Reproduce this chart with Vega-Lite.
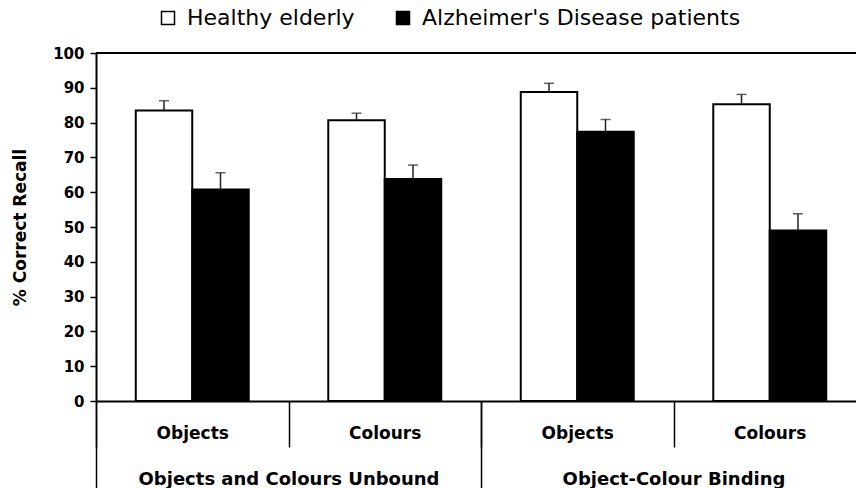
{
  "$schema": "https://vega.github.io/schema/vega-lite/v6.json",
  "width": 760,
  "height": 348,
  "autosize": {"type": "none"},
  "padding": {"left": 96, "top": 53, "right": 0, "bottom": 87},
  "config": {
    "view": {"stroke": null},
    "font": "DejaVu Sans",
    "axis": {"labelColor": "black", "titleColor": "black", "domainColor": "black", "tickColor": "black", "grid": false}
  },
  "data": {
    "values": [
      {"cell": "Objects and Colours Unbound|Objects", "group": "Healthy elderly", "value": 83.5, "hi": 86.3},
      {"cell": "Objects and Colours Unbound|Objects", "group": "Alzheimer's Disease patients", "value": 60.8, "hi": 65.6},
      {"cell": "Objects and Colours Unbound|Colours", "group": "Healthy elderly", "value": 80.7, "hi": 82.7},
      {"cell": "Objects and Colours Unbound|Colours", "group": "Alzheimer's Disease patients", "value": 63.8, "hi": 67.8},
      {"cell": "Object-Colour Binding|Objects", "group": "Healthy elderly", "value": 88.8, "hi": 91.3},
      {"cell": "Object-Colour Binding|Objects", "group": "Alzheimer's Disease patients", "value": 77.4, "hi": 80.9},
      {"cell": "Object-Colour Binding|Colours", "group": "Healthy elderly", "value": 85.3, "hi": 88.1},
      {"cell": "Object-Colour Binding|Colours", "group": "Alzheimer's Disease patients", "value": 49.0, "hi": 53.8}
    ]
  },
  "layer": [
    {
      "mark": {"type": "bar", "stroke": "black", "strokeWidth": 2},
      "encoding": {
        "x": {
          "field": "cell", "type": "nominal", "sort": null,
          "scale": {"range": [0, 770], "paddingInner": 0, "paddingOuter": 0},
          "axis": {
            "orient": "bottom", "title": null, "labelAngle": 0,
            "labelExpr": "split(datum.label, '|')[1]",
            "labelFont": "DejaVu Sans", "labelFontWeight": "bold", "labelFontSize": 17,
            "tickOffset": -96.25, "labelOffset": 96.25,
            "tickSize": 46, "tickWidth": 1.5, "labelPadding": -22,
            "domainWidth": 2
          }
        },
        "xOffset": {
          "field": "group", "type": "nominal",
          "sort": ["Healthy elderly", "Alzheimer's Disease patients"],
          "scale": {"paddingInner": 0, "paddingOuter": 0.704}
        },
        "y": {
          "field": "value", "type": "quantitative",
          "scale": {"domain": [0, 100], "nice": false},
          "axis": {
            "title": "% Correct Recall",
            "values": [0, 10, 20, 30, 40, 50, 60, 70, 80, 90, 100], "tickCount": 11,
            "labelFont": "DejaVu Sans", "labelFontWeight": "bold", "labelFontSize": 15,
            "titleFont": "DejaVu Sans", "titleFontWeight": "bold", "titleFontSize": 17,
            "titlePadding": 23, "tickSize": 6, "tickWidth": 1.5, "labelPadding": 6,
            "domainWidth": 2, "labelOverlap": false
          }
        },
        "fill": {
          "field": "group", "type": "nominal",
          "sort": ["Healthy elderly", "Alzheimer's Disease patients"],
          "scale": {"range": ["white", "black"]},
          "legend": {
            "orient": "none", "legendX": 61, "legendY": -46, "direction": "horizontal",
            "title": null, "symbolType": "square", "symbolSize": 169,
            "symbolStrokeColor": "black", "symbolStrokeWidth": 1.5,
            "labelFont": "DejaVu Sans", "labelFontSize": 22, "labelColor": "black",
            "labelOffset": 8, "columnPadding": 37, "labelLimit": 500
          }
        }
      }
    },
    {
      "mark": {"type": "rule", "color": "#222", "strokeWidth": 1.5},
      "encoding": {
        "x": {
          "field": "cell", "type": "nominal", "sort": null,
          "axis": {
            "orient": "bottom", "title": null, "labelAngle": 0, "domain": false,
            "values": ["Objects and Colours Unbound|Objects", "Object-Colour Binding|Objects"],
            "labelExpr": "split(datum.label, '|')[0]",
            "labelFont": "DejaVu Sans", "labelFontWeight": "bold", "labelFontSize": 18,
            "tickOffset": -96.25, "labelOffset": 192.5, "labelLimit": 500,
            "tickSize": 87, "tickWidth": 1.5, "labelPadding": -18
          }
        },
        "xOffset": {"field": "group", "type": "nominal", "sort": ["Healthy elderly", "Alzheimer's Disease patients"]},
        "y": {"field": "value", "type": "quantitative"},
        "y2": {"field": "hi"}
      }
    },
    {
      "mark": {"type": "tick", "orient": "horizontal", "color": "#222", "thickness": 1.5, "size": 10},
      "encoding": {
        "x": {"field": "cell", "type": "nominal", "sort": null, "axis": null},
        "xOffset": {"field": "group", "type": "nominal", "sort": ["Healthy elderly", "Alzheimer's Disease patients"]},
        "y": {"field": "hi", "type": "quantitative"}
      }
    },
    {
      "mark": {"type": "rule", "color": "black", "strokeWidth": 2},
      "encoding": {"y": {"datum": 100}}
    }
  ],
  "resolve": {"axis": {"x": "independent"}}
}
